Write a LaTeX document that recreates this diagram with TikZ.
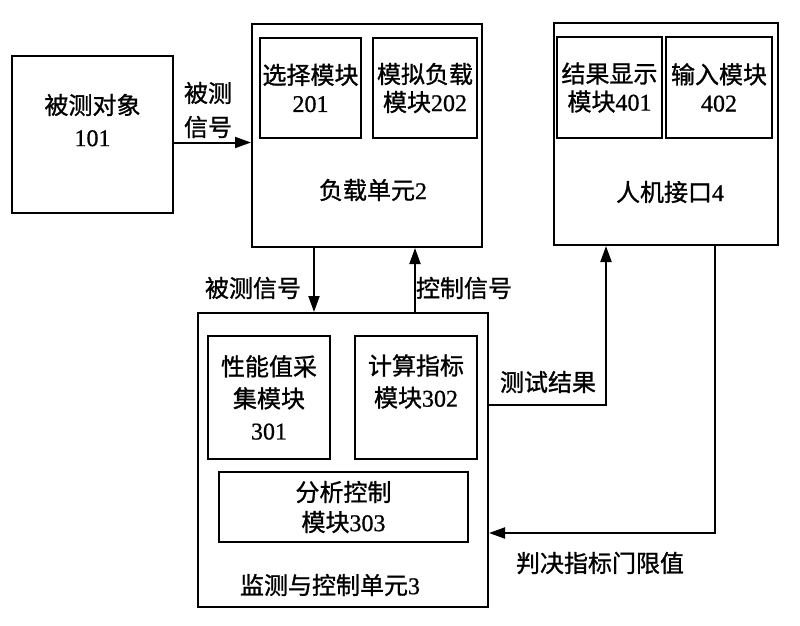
\documentclass[tikz,border=0pt]{standalone}
\usepackage{fontspec}
\setmainfont{Liberation Serif}[FakeBold=0.8]
\newfontfamily\cjk{Noto Sans CJK SC}[FakeBold=1.1]
\usetikzlibrary{arrows.meta,calc}

\tikzset{
  unitbox/.style={draw,line width=2pt,inner sep=0pt},
  modbox/.style={draw,line width=1.7pt,inner sep=0pt,align=center},
  lbl/.style={inner sep=0pt,align=center},
  arr/.style={line width=2pt,-{Triangle[length=16pt,width=11pt]}},
  wire/.style={line width=2pt}
}

\begin{document}
\begin{tikzpicture}[x=1pt,y=-1pt,font=\fontsize{24}{32}\selectfont]
  \useasboundingbox (0,0) rectangle (800,625);
  % units
  \node[unitbox,align=center,minimum width=161pt,minimum height=157pt,text depth=29pt] (obj) at (92.5,134.5) {{\cjk 被测对象}\\101};
  \node[unitbox,minimum width=230pt,minimum height=223pt] (load) at (367,135.5) {};
  \node[unitbox,minimum width=224pt,minimum height=222pt] (hmi) at (666,134) {};
  \node[unitbox,minimum width=290pt,minimum height=294pt] (mon) at (343,460) {};
  % modules
  \node[modbox,minimum width=101pt,minimum height=100pt,font=\fontsize{24}{28}\selectfont] (sel) at (310.5,88) {{\cjk 选择模块}\\201};
  \node[modbox,minimum width=104pt,minimum height=100pt,font=\fontsize{24}{28}\selectfont] (sim) at (425,88) {{\cjk 模拟负载}\\{\cjk 模块}202};
  \node[modbox,minimum width=105pt,minimum height=101pt,font=\fontsize{24}{28}\selectfont] (disp) at (609.5,87.5) {{\cjk 结果显示}\\{\cjk 模块}401};
  \node[modbox,minimum width=106pt,minimum height=101pt,font=\fontsize{24}{28}\selectfont] (inp) at (719,87.5) {{\cjk 输入模块}\\402};
  \node[modbox,minimum width=122pt,minimum height=123pt] (acq) at (269,397.5) {{\cjk 性能值采}\\{\cjk 集模块}\\301};
  \node[modbox,minimum width=122pt,minimum height=123pt,text depth=34pt] (calc) at (416,397.5) {{\cjk 计算指标}\\{\cjk 模块}302};
  \node[modbox,minimum width=249pt,minimum height=70pt,font=\fontsize{24}{30}\selectfont] (ana) at (343.5,507) {{\cjk 分析控制}\\{\cjk 模块}303};
  % unit names
  \node[lbl] (loadname) at (373,190) {{\cjk 负载单元}2};
  \node[lbl] (hminame) at (670,192) {{\cjk 人机接口}4};
  \node[lbl] (monname) at (330,585) {{\cjk 监测与控制单元}3};
  % connectors
  \draw[arr] ([yshift=-8pt]obj.east) -- ([yshift=-8pt]obj.east -| load.west);
  \draw[arr] ([xshift=-53pt]load.south) -- ([xshift=-53pt]load.south |- mon.north);
  \draw[arr] ([xshift=48pt]load.south |- mon.north) -- ([xshift=48pt]load.south);
  \draw[arr] ([yshift=55pt]mon.east) -| ([xshift=-60pt]hmi.south);
  \draw[arr] ([xshift=49pt]hmi.south) |- ([yshift=-73pt]mon.east);
  % signal labels
  \node[lbl,font=\fontsize{24}{34}\selectfont\cjk] (sig1) at (208,110) {被测\\信号};
  \node[lbl,font=\fontsize{24}{30}\selectfont\cjk] (sig2) at (253,288) {被测信号};
  \node[lbl,font=\fontsize{24}{30}\selectfont\cjk] (ctrl) at (464,288) {控制信号};
  \node[lbl,font=\fontsize{24}{30}\selectfont\cjk] (res) at (548,382) {测试结果};
  \node[lbl,font=\fontsize{24}{30}\selectfont\cjk] (thr) at (600,563) {判决指标门限值};
\end{tikzpicture}
\end{document}
